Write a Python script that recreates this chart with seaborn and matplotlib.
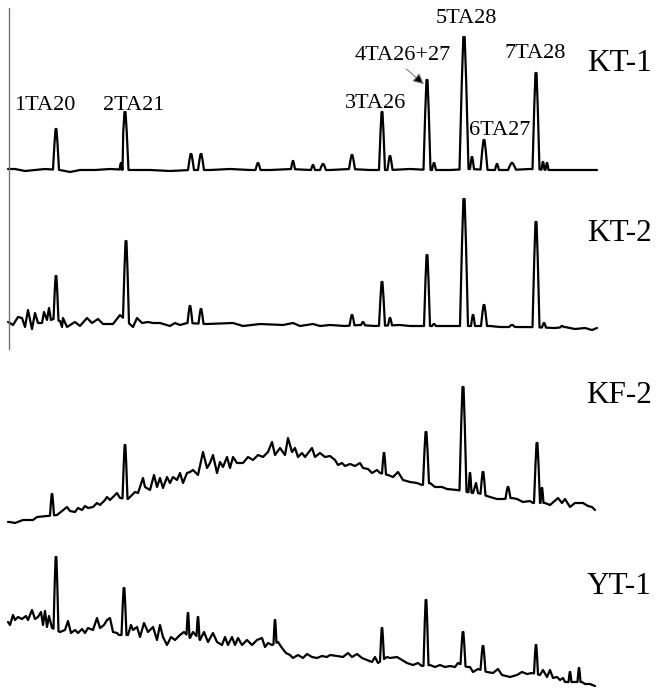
import numpy as np
import pandas as pd
import seaborn as sns
import matplotlib.pyplot as plt

# retention time (min) and intensity (arbitrary units)
samples = ['KT-1', 'KT-2', 'KF-2', 'YT-1']
peak_names = ['1TA20', '2TA21', '3TA26', '4TA26+27', '5TA28', '6TA27', '7TA28']

# ---- KT-1
kt1_bg_t = [0.8, 1.5, 2.5, 3.5, 4.5, 6.0, 7.0, 8.0, 9.5, 11, 13, 15, 17, 19, 21, 23, 25, 27, 29,
            31, 33, 35, 37, 39, 41, 43, 45, 47, 49, 51, 53, 55, 57, 59.7]
kt1_bg_i = [1, 1, -1, 0, 1, 0, -2, 0, 0, 1, 0, 0, -1, 0, 0, 1, 0, 0, 1,
            0, 0, 1, 0, 0, 1, 0, 0, 1, 0, 0, 1, 0, 0, 0]
kt1_pk_t = [5.6, 12.1, 12.5, 19.1, 20.1, 25.8, 29.3, 31.3, 32.3, 35.2, 38.2, 39.0, 42.7, 43.4,
            46.4, 47.2, 48.4, 49.7, 51.2, 53.6, 54.3, 54.7]
kt1_pk_i = [41, 7, 58, 16, 16, 7, 9, 5, 6, 15, 58, 14, 90, 7, 133, 13, 30, 6, 7, 97, 8, 7]
kt1_pk_w = [0.3, 0.15, 0.35, 0.3, 0.3, 0.25, 0.2, 0.2, 0.3, 0.3, 0.3, 0.25, 0.35, 0.2,
            0.45, 0.2, 0.35, 0.2, 0.4, 0.35, 0.15, 0.15]

# ---- KT-2
kt2_bg_t = [0.8, 1.0, 1.3, 1.8, 2.2, 2.5, 2.8, 3.2, 3.5, 3.8, 4.2, 4.4, 4.7, 4.9, 5.1, 5.3,
            6.0, 6.2, 6.3, 6.7, 7.5, 8.0, 8.7, 9.2, 9.8, 10.3, 11.3, 12.0, 13.3, 13.7, 14.2,
            14.8, 15.3, 16.0, 17.0, 17.5, 18.0, 18.7, 20.7, 23.3, 24.3, 26.0, 28.3, 29.3, 30.0,
            31.3, 32.0, 33.0, 34.5, 36.0, 37.5, 40.0, 41.0, 42.0, 45.0, 49.0, 50.0, 53.0, 55.5,
            56.5, 57.5, 58.5, 59.2, 59.7]
kt2_bg_i = [8, 7, 5, 13, 12, 3, 20, 1, 17, 7, 7, 18, 10, 22, 10, 11,
            9, 3, 12, 3, 8, 4, 12, 7, 11, 6, 6, 15, 3, 12, 7,
            8, 7, 7, 4, 7, 5, 7, 6, 7, 4, 6, 5, 7, 4,
            6, 4, 5, 4, 5, 4, 5, 4, 4, 4, 4, 3, 3, 2,
            3, 1, 2, 0, 2]
kt2_pk_t = [5.6, 12.6, 19.0, 20.1, 35.2, 36.3, 38.2, 39.0, 42.7, 43.4, 46.4, 47.3, 48.4,
            51.2, 53.6, 54.4, 56.2]
kt2_pk_i = [54, 89, 24, 21, 15, 8, 48, 12, 75, 6, 131, 15, 25, 5, 108, 7, 4]
kt2_pk_w = [0.25, 0.3, 0.25, 0.25, 0.25, 0.2, 0.3, 0.2, 0.3, 0.2, 0.4, 0.2, 0.3,
            0.3, 0.35, 0.2, 0.2]

# ---- KF-2
kf2_bg_t = [0.8, 1.0, 1.5, 2.3, 3.3, 3.7, 4.7, 5.7, 6.2, 6.7, 7.0, 7.5, 7.8, 8.2, 8.5, 8.8,
            9.3, 9.7, 10.0, 10.5, 10.7, 11.0, 11.3, 11.7, 12.0, 12.8, 13.2, 13.5, 13.8, 14.3,
            14.5, 15.0, 15.4, 15.7, 16.0, 16.3, 16.7, 17.0, 17.3, 17.7, 18.0, 18.3, 18.7, 19.0,
            19.3, 19.8, 20.3, 20.7, 21.0, 21.3, 21.7, 22.0, 22.3, 22.7, 23.0, 23.3, 23.7, 24.3,
            24.8, 25.3, 25.8, 26.3, 26.8, 27.2, 27.5, 28.0, 28.5, 28.8, 29.2, 29.5, 29.8, 30.2,
            30.5, 31.2, 31.5, 32.0, 32.5, 33.0, 33.5, 33.8, 34.2, 34.5, 35.0, 35.5, 36.0, 36.3,
            36.8, 37.2, 37.7, 38.0, 38.8, 39.3, 39.8, 40.3, 41.0, 41.7, 42.2, 43.0, 43.5, 44.2,
            44.7, 45.7, 46.7, 47.3, 47.6, 47.8, 49.0, 49.7, 50.3, 51.2, 51.7, 52.3, 53.0, 53.3,
            54.5, 55.0, 55.8, 56.2, 56.5, 57.0, 57.5, 58.3, 58.8, 59.2, 59.5]
kf2_bg_i = [0, 0, -1, 2, 2, 5, 6, 7, 11, 15, 11, 10, 14, 12, 16, 14,
            15, 19, 17, 22, 25, 22, 25, 29, 24, 23, 27, 30, 29, 44,
            35, 32, 47, 35, 44, 34, 45, 39, 45, 42, 49, 39, 49, 50,
            52, 47, 70, 54, 59, 67, 49, 60, 55, 65, 54, 65, 59, 59,
            65, 62, 67, 65, 70, 80, 67, 74, 67, 84, 70, 74, 65, 69,
            65, 74, 65, 69, 65, 66, 62, 57, 59, 56, 58, 56, 59, 54,
            53, 49, 52, 49, 47, 45, 50, 42, 40, 39, 37, 39, 35, 35,
            33, 32, 30, 29, 39, 29, 25, 23, 23, 24, 23, 20, 21, 19,
            19, 17, 24, 19, 23, 15, 19, 19, 16, 15, 12]
kf2_pk_t = [5.2, 12.5, 38.4, 42.6, 46.3, 47.0, 48.3, 50.8, 53.7, 54.2]
kf2_pk_i = [28, 77, 69, 90, 135, 49, 50, 35, 79, 34]
kf2_pk_w = [0.2, 0.25, 0.2, 0.3, 0.35, 0.15, 0.25, 0.25, 0.3, 0.15]

# ---- YT-1
yt1_bg_t = [0.8, 1.0, 1.3, 1.5, 1.8, 2.2, 2.6, 2.8, 3.2, 3.5, 3.8, 4.1, 4.3, 4.5, 4.7, 4.9,
            5.2, 6.0, 6.5, 6.8, 7.1, 7.5, 7.8, 8.2, 8.5, 8.8, 9.3, 9.7, 10.0, 10.4, 10.7, 11.0,
            11.3, 11.7, 11.9, 12.8, 13.1, 13.3, 13.7, 14.0, 14.4, 14.8, 15.3, 15.7, 16.0, 16.3,
            16.7, 17.1, 17.5, 18.0, 18.4, 19.0, 19.3, 20.0, 20.4, 20.8, 21.3, 21.7, 22.2, 22.5,
            22.8, 23.2, 23.5, 23.8, 24.2, 24.7, 25.2, 25.7, 26.2, 26.5, 26.8, 27.2, 27.8, 28.2,
            28.6, 29.0, 29.3, 29.8, 30.3, 30.7, 31.2, 31.7, 32.2, 32.7, 33.0, 33.7, 34.3, 34.8,
            35.2, 35.7, 36.2, 36.7, 37.2, 37.5, 37.8, 38.7, 39.0, 39.7, 40.2, 40.7, 41.3, 41.8,
            42.2, 43.0, 43.5, 44.0, 44.5, 45.0, 45.5, 45.8, 46.7, 47.0, 47.3, 47.8, 48.7, 49.3,
            49.8, 50.2, 51.0, 51.7, 52.2, 52.7, 53.2, 54.0, 54.3, 54.7, 55.0, 55.3, 55.7, 56.0,
            56.3, 56.5, 57.3, 58.2, 58.5, 59.0, 59.5]
yt1_bg_i = [68, 65, 75, 70, 73, 71, 74, 70, 80, 71, 73, 78, 65, 79, 63, 74,
            62, 58, 60, 69, 57, 60, 57, 61, 57, 62, 60, 72, 62, 65, 70, 72,
            58, 57, 55, 55, 65, 60, 63, 53, 67, 58, 63, 50, 65, 53,
            45, 53, 50, 55, 58, 52, 58, 50, 58, 48, 57, 48, 45, 53,
            45, 53, 45, 52, 45, 50, 45, 50, 52, 43, 47, 45, 48, 42,
            37, 35, 32, 35, 32, 36, 33, 32, 34, 33, 35, 34, 33, 37,
            33, 36, 32, 30, 28, 33, 27, 33, 32, 33, 30, 27, 25, 27,
            24, 25, 23, 25, 23, 24, 23, 27, 23, 23, 18, 21, 18, 17,
            21, 15, 13, 15, 18, 16, 17, 15, 20, 13, 20, 12, 13, 10,
            12, 8, 8, 8, 6, 6, 4]
yt1_pk_t = [5.6, 12.4, 18.8, 19.8, 27.5, 38.2, 42.6, 46.3, 48.3, 53.6, 57.0, 57.9]
yt1_pk_i = [133, 102, 77, 73, 70, 62, 90, 58, 44, 45, 18, 22]
yt1_pk_w = [0.25, 0.25, 0.15, 0.15, 0.15, 0.2, 0.25, 0.25, 0.25, 0.2, 0.15, 0.15]


def build_trace(bg_t, bg_i, pk_t, pk_i, pk_w):
    bg_t = np.array(bg_t, dtype=float)
    bg_i = np.array(bg_i, dtype=float)
    keep = np.ones(len(bg_t), dtype=bool)
    for t, w in zip(pk_t, pk_w):
        keep &= ~((bg_t > t - w) & (bg_t < t + w))
    pts = list(zip(bg_t[keep], bg_i[keep]))
    # each peak drawn as a narrow spike between its feet on the background
    for t, a, w in zip(pk_t, pk_i, pk_w):
        bl = np.interp(t - w, bg_t, bg_i)
        br = np.interp(t + w, bg_t, bg_i)
        pts += [(t - w, bl), (t - 0.5 * w, bl + 0.65 * (a - bl)), (t - 0.15 * w, a),
                (t + 0.15 * w, a), (t + 0.5 * w, br + 0.65 * (a - br)), (t + w, br)]
    pts.sort(key=lambda p: p[0])
    return np.array(pts)


traces = {
    'KT-1': build_trace(kt1_bg_t, kt1_bg_i, kt1_pk_t, kt1_pk_i, kt1_pk_w),
    'KT-2': build_trace(kt2_bg_t, kt2_bg_i, kt2_pk_t, kt2_pk_i, kt2_pk_w),
    'KF-2': build_trace(kf2_bg_t, kf2_bg_i, kf2_pk_t, kf2_pk_i, kf2_pk_w),
    'YT-1': build_trace(yt1_bg_t, yt1_bg_i, yt1_pk_t, yt1_pk_i, yt1_pk_w),
}

# vertical stacking (baseline level of each trace, in figure pixels from top)
offsets = {'KT-1': 170, 'KT-2': 330, 'KF-2': 522, 'YT-1': 690}

frames = []
for s in samples:
    arr = traces[s]
    frames.append(pd.DataFrame({'t': arr[:, 0], 'y': offsets[s] - arr[:, 1], 'sample': s}))
df = pd.concat(frames, ignore_index=True)

sns.set_style('white')
plt.rcParams['font.family'] = ['Liberation Serif', 'DejaVu Serif']
plt.rcParams['text.color'] = 'black'

fig = plt.figure(figsize=(6.56, 6.91), dpi=100)
ax = fig.add_axes([0, 0, 1, 1])

sns.lineplot(data=df, x='t', y='y', units='sample', estimator=None, sort=False,
             color='black', lw=1.6, ax=ax, legend=False)
for line in ax.lines:
    line.set_solid_joinstyle('round')

ax.set_xlim(0, 65.6)
ax.set_ylim(691, 0)
ax.axis('off')

# left border line of the two upper traces
ax.plot([0.85, 0.85], [8, 349], color='0.45', lw=1.0)

# peak labels
label_pos = [(4.5, 105), (13.4, 105), (37.6, 103), (40.3, 55), (46.6, 18), (50.0, 130), (53.5, 53)]
for name, (x, y) in zip(peak_names, label_pos):
    ax.text(x, y, name, fontsize=16, ha='center', va='center', color='black')

ax.annotate('', xy=(42.6, 86), xytext=(40.4, 67),
            arrowprops=dict(arrowstyle='-|>', lw=0.8, ec='0.5', fc='black', mutation_scale=16))

# sample labels
sample_y = [63, 233, 395, 587]
for s, y in zip(samples, sample_y):
    ax.text(61.9, y, s, fontsize=22.5, ha='center', va='center', color='black')

fig.savefig('out.png', dpi=100, facecolor='white')
